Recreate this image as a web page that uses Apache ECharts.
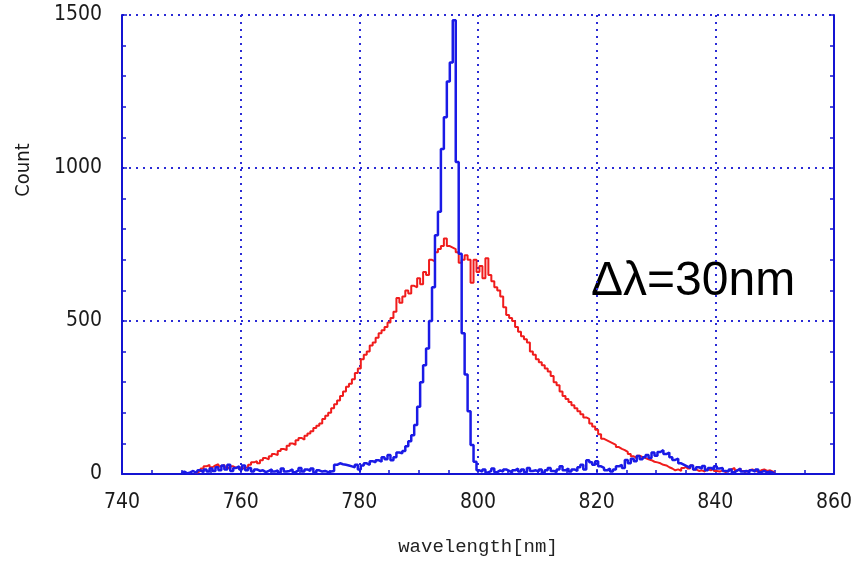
<!DOCTYPE html>
<html><head><meta charset="utf-8">
<script src="https://cdn.jsdelivr.net/npm/echarts@6/dist/echarts.min.js"></script>
<style>html,body{margin:0;padding:0;background:#fff}#c{width:855px;height:561px}</style>
</head><body><div id="c"></div>
<script>
// wavelength grid: first sample and spacing (nm)
const wlStart = 750;
const wlStep = 0.5;

// tick labels
const xTickLabels = [740, 760, 780, 800, 820, 840, 860];
const yTickLabels = [0, 500, 1000, 1500];

// broad spectrum (red), counts per 0.5 nm sample from 750 nm, rows of 5 nm
const redCounts = [
  null,null,null,null,null,5,10,18,25,30,
  22,28,32,25,30,22,18,25,20,22,
  18,20,22,30,38,42,35,45,52,48,
  58,65,62,75,82,78,92,100,95,110,
  118,112,125,132,140,150,158,165,180,190,
  200,215,228,240,255,270,285,295,310,330,
  345,375,390,400,420,430,445,460,470,480,
  495,510,530,575,560,580,600,590,615,610,
  640,620,660,650,700,695,725,735,745,770,
  745,740,735,725,690,700,715,700,625,700,
  660,680,640,705,650,630,610,600,580,545,
  520,510,500,480,465,450,440,430,400,390,
  375,365,355,345,335,320,300,290,270,255,
  245,235,225,215,205,195,185,180,165,155,
  145,130,115,110,105,100,95,88,82,78,
  72,65,58,52,60,55,52,48,45,40,
  38,35,30,28,22,18,12,15,10,20,
  25,18,28,15,10,12,8,15,12,18,
  10,8,12,6,10,15,20,12,18,10,
  8,12,15,10,8,12,15,10,12,8,
  4
];

// narrow spectrum (blue), counts per 0.5 nm sample from 750 nm, rows of 5 nm
const blueCounts = [
  3,8,2,5,10,4,12,6,15,8,
  18,10,22,12,28,15,30,10,20,25,
  15,28,12,20,8,15,10,12,6,10,
  15,8,12,5,18,8,10,15,6,12,
  20,8,15,10,18,5,12,8,10,6,
  8,10,30,35,32,30,28,25,22,30,
  15,28,35,30,42,38,45,40,55,48,
  62,45,55,70,68,75,91,107,127,160,
  220,300,355,410,500,610,780,857,1062,1166,
  1283,1345,1483,1020,720,460,325,205,95,40,
  12,8,15,5,10,18,6,12,8,15,
  10,5,12,18,8,15,6,20,10,12,
  8,15,5,12,20,10,6,15,25,12,
  18,8,15,10,22,30,15,45,38,30,
  42,25,20,12,18,8,15,25,30,20,
  46,35,50,42,59,48,55,62,52,70,
  60,72,78,65,70,55,46,50,35,30,
  25,20,28,15,22,18,26,12,20,15,
  25,18,20,10,8,15,6,12,18,8,
  10,5,12,8,15,6,10,5,8,4,
  3
];

function toPairs(vals) {
  return vals.map((v, i) => [wlStart + i * wlStep, v]);
}

const axisBlue = '#1414d2';
const gridBlue = '#2b2bd6';
const tickFont = "'DejaVu Sans Condensed', 'Liberation Sans Narrow', 'DejaVu Sans', sans-serif";

const chart = echarts.init(document.getElementById('c'), null, {renderer: 'canvas'});
chart.setOption({
  animation: false,
  backgroundColor: '#fff',
  grid: {left: 122, right: 17, top: 15, bottom: 85},
  xAxis: {
    type: 'value',
    min: xTickLabels[0],
    max: xTickLabels[xTickLabels.length - 1],
    interval: 20,
    axisLine: {show: true, onZero: false, lineStyle: {color: axisBlue, width: 2}},
    axisTick: {show: true, inside: true, length: 5, lineStyle: {color: axisBlue, width: 1.5}},
    minorTick: {show: true, splitNumber: 4, length: 4, lineStyle: {color: axisBlue, width: 1.5}},
    splitLine: {show: true, lineStyle: {color: gridBlue, width: 2, type: [2, 5]}},
    axisLabel: {color: '#1a1a1a', fontSize: 21, fontFamily: tickFont, margin: 18,
      formatter: v => String(v)},
    name: 'wavelength[nm]',
    nameLocation: 'middle',
    nameGap: 63,
    nameTextStyle: {color: '#222', fontSize: 19, fontFamily: "'Liberation Mono', 'DejaVu Sans Mono', monospace"}
  },
  yAxis: [{
    type: 'value',
    min: yTickLabels[0],
    max: yTickLabels[yTickLabels.length - 1],
    interval: 500,
    position: 'left',
    axisLine: {show: true, onZero: false, lineStyle: {color: axisBlue, width: 2}},
    axisTick: {show: true, inside: true, length: 5, lineStyle: {color: axisBlue, width: 1.5}},
    minorTick: {show: true, splitNumber: 5, length: 4, lineStyle: {color: axisBlue, width: 1.5}},
    splitLine: {show: true, lineStyle: {color: gridBlue, width: 2, type: [2, 5]}},
    axisLabel: {color: '#1a1a1a', fontSize: 21, fontFamily: tickFont, margin: 20,
      formatter: v => String(v)}
  }, {
    type: 'value',
    min: yTickLabels[0],
    max: yTickLabels[yTickLabels.length - 1],
    interval: 500,
    position: 'right',
    axisLine: {show: true, onZero: false, lineStyle: {color: axisBlue, width: 2}},
    axisTick: {show: true, inside: true, length: 5, lineStyle: {color: axisBlue, width: 1.5}},
    minorTick: {show: true, splitNumber: 5, length: 4, lineStyle: {color: axisBlue, width: 1.5}},
    splitLine: {show: false},
    axisLabel: {show: false}
  }],
  series: [{
    name: 'broad',
    type: 'line',
    step: 'middle',
    showSymbol: false,
    yAxisIndex: 0,
    data: toPairs(redCounts),
    lineStyle: {color: '#f01c1c', width: 2},
    itemStyle: {color: '#f01c1c'}
  }, {
    name: 'narrow',
    type: 'line',
    step: 'middle',
    showSymbol: false,
    yAxisIndex: 0,
    data: toPairs(blueCounts),
    lineStyle: {color: '#1a1ae6', width: 2.5},
    itemStyle: {color: '#1a1ae6'}
  }],
  graphic: [{
    type: 'text',
    x: 24, y: 170,
    rotation: Math.PI / 2,
    style: {
      text: 'Count', fill: '#1a1a1a', fontSize: 20,
      fontFamily: tickFont,
      align: 'center', verticalAlign: 'middle'
    }
  }, {
    type: 'text',
    x: 591, y: 282,
    style: {
      text: 'Δλ=30nm', fill: '#000', fontSize: 48,
      fontFamily: "'Liberation Sans', Arial, sans-serif",
      align: 'left', verticalAlign: 'middle'
    }
  }]
});
</script>
</body></html>
